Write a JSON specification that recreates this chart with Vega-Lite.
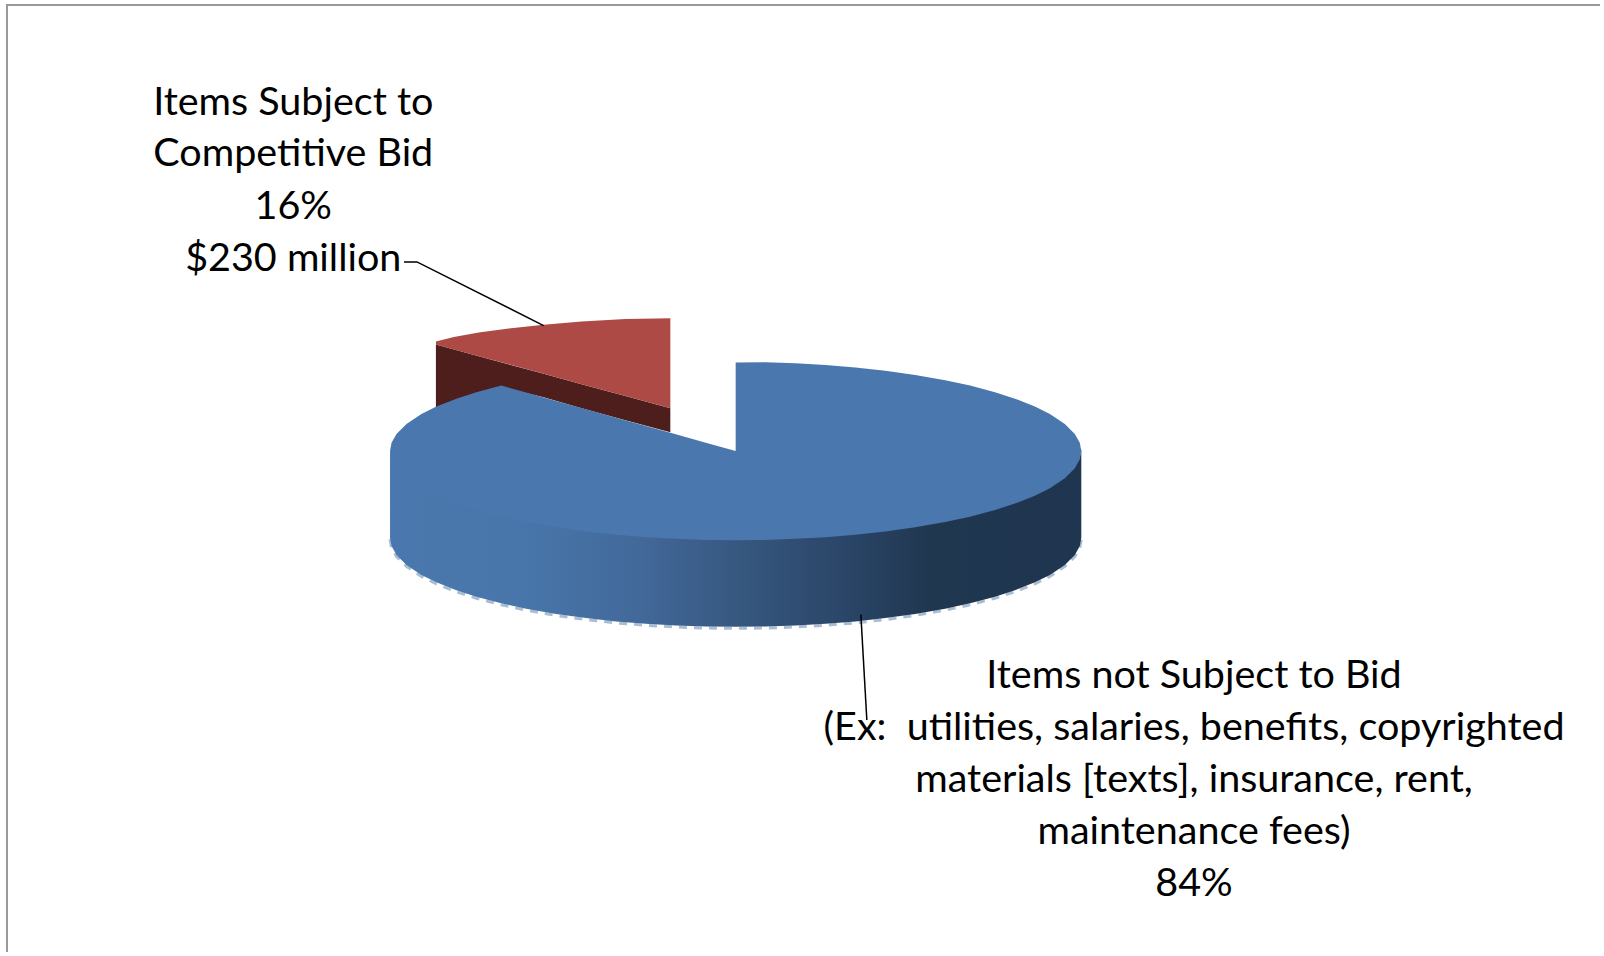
{"$schema":"https://vega.github.io/schema/vega-lite/v6.json","width":1604,"height":956,"autosize":{"type":"fit","contains":"padding"},"padding":0,"background":"white","view":{"stroke":null},
"datasets":{
"top":[{"x":391,"y":453,"y2":453},{"x":392.5,"y":444.7,"y2":461.3},{"x":397.5,"y":435.7,"y2":470.3},{"x":407.5,"y":425.7,"y2":480.3},{"x":422.5,"y":415.7,"y2":490.3},{"x":437.5,"y":408.2,"y2":497.8},{"x":457.5,"y":400.3,"y2":505.7},{"x":477.5,"y":393.8,"y2":512.2},{"x":502.5,"y":387.2,"y2":518.8},{"x":527.5,"y":394.2,"y2":524.2},{"x":557.5,"y":402.6,"y2":529.5},{"x":587.5,"y":411,"y2":533.7},{"x":617.5,"y":419.4,"y2":537},{"x":647.5,"y":427.8,"y2":539.4},{"x":677.5,"y":436.1,"y2":541.1},{"x":707.5,"y":444.5,"y2":542.2},{"x":737.5,"y":453,"y2":542.5},{"x":737.5,"y":364,"y2":542.5},{"x":767.5,"y":363.8,"y2":542.2},{"x":797.5,"y":364.9,"y2":541.1},{"x":827.5,"y":366.6,"y2":539.4},{"x":857.5,"y":369,"y2":537},{"x":887.5,"y":372.3,"y2":533.7},{"x":917.5,"y":376.5,"y2":529.5},{"x":947.5,"y":381.8,"y2":524.2},{"x":972.5,"y":387.2,"y2":518.8},{"x":997.5,"y":393.8,"y2":512.2},{"x":1017.5,"y":400.3,"y2":505.7},{"x":1037.5,"y":408.2,"y2":497.8},{"x":1052.5,"y":415.7,"y2":490.3},{"x":1067.5,"y":425.7,"y2":480.3},{"x":1077.5,"y":435.7,"y2":470.3},{"x":1082.5,"y":444.7,"y2":461.3},{"x":1084,"y":453,"y2":453}],
"side":[{"x":391,"y":451,"y2":540},{"x":392.5,"y":459.3,"y2":548.3},{"x":397.5,"y":468.3,"y2":557.3},{"x":407.5,"y":478.3,"y2":567.3},{"x":422.5,"y":488.3,"y2":577.3},{"x":437.5,"y":495.8,"y2":584.8},{"x":457.5,"y":503.7,"y2":592.7},{"x":477.5,"y":510.2,"y2":599.2},{"x":502.5,"y":516.8,"y2":605.8},{"x":527.5,"y":522.2,"y2":611.2},{"x":557.5,"y":527.5,"y2":616.5},{"x":587.5,"y":531.7,"y2":620.7},{"x":617.5,"y":535,"y2":624},{"x":647.5,"y":537.4,"y2":626.4},{"x":677.5,"y":539.1,"y2":628.1},{"x":707.5,"y":540.2,"y2":629.2},{"x":737.5,"y":540.5,"y2":629.5},{"x":767.5,"y":540.2,"y2":629.2},{"x":797.5,"y":539.1,"y2":628.1},{"x":827.5,"y":537.4,"y2":626.4},{"x":857.5,"y":535,"y2":624},{"x":887.5,"y":531.7,"y2":620.7},{"x":917.5,"y":527.5,"y2":616.5},{"x":947.5,"y":522.2,"y2":611.2},{"x":972.5,"y":516.8,"y2":605.8},{"x":997.5,"y":510.2,"y2":599.2},{"x":1017.5,"y":503.7,"y2":592.7},{"x":1037.5,"y":495.8,"y2":584.8},{"x":1052.5,"y":488.3,"y2":577.3},{"x":1067.5,"y":478.3,"y2":567.3},{"x":1077.5,"y":468.3,"y2":557.3},{"x":1082.5,"y":459.3,"y2":548.3},{"x":1084,"y":451,"y2":540}],
"redTop":[{"x":437,"y":343,"y2":346},{"x":455,"y":338.5,"y2":351},{"x":480,"y":334,"y2":357.7},{"x":510,"y":329.8,"y2":365.9},{"x":545,"y":326,"y2":375.4},{"x":583,"y":322.8,"y2":385.8},{"x":627,"y":320.4,"y2":397.7},{"x":672,"y":319.5,"y2":410}],
"redSide":[{"x":437,"y":346,"y2":410},{"x":480,"y":357.7,"y2":395},{"x":503,"y":364,"y2":389},{"x":545,"y":375.4,"y2":399},{"x":583,"y":385.8,"y2":410},{"x":627,"y":397.7,"y2":422},{"x":672,"y":410,"y2":434}],
"frame":[{"x":7,"y":956,"o":1},{"x":7,"y":5,"o":2},{"x":1604,"y":5,"o":3}],
"leaders":[{"slice":"bid","x":405,"y":263,"o":1},{"slice":"bid","x":418,"y":263,"o":2},{"slice":"bid","x":545,"y":327,"o":3},{"slice":"nobid","x":863,"y":617,"o":1},{"slice":"nobid","x":869,"y":723,"o":2}],
"labels":[{"share":16,"text":"Items Subject to","x":294,"y":103},{"share":16,"text":"Competitive Bid","x":294,"y":155},{"share":16,"text":"16%","x":294,"y":208},{"share":16,"text":"$230 million","x":294,"y":260},{"share":84,"text":"Items not Subject to Bid","x":1197,"y":679},{"share":84,"text":"(Ex:\u00a0 utilities, salaries, benefits, copyrighted","x":1197,"y":731},{"share":84,"text":"materials [texts], insurance, rent,","x":1197,"y":783},{"share":84,"text":"maintenance fees)","x":1197,"y":835},{"share":84,"text":"84%","x":1197,"y":888}]
},
"encoding":{"x":{"field":"x","type":"quantitative","axis":null,"scale":{"domain":[0,1604],"nice":false,"zero":false}},"y":{"field":"y","type":"quantitative","axis":null,"scale":{"domain":[956,0],"nice":false,"zero":false}}},
"layer":[
{"data":{"name":"frame"},"mark":{"type":"line","color":"#999999","strokeWidth":2},"encoding":{"order":{"field":"o"}}},
{"data":{"name":"redSide"},"mark":{"type":"area","color":"#4d1e1c"},"encoding":{"y2":{"field":"y2"}}},
{"data":{"name":"redTop"},"mark":{"type":"area","color":"#ae4a45"},"encoding":{"y2":{"field":"y2"}}},
{"data":{"name":"side"},"mark":{"type":"line","color":"#a9bdd3","strokeWidth":3,"strokeDash":[8,7],"yOffset":1.5},"encoding":{"y":{"field":"y2","type":"quantitative"}}},
{"data":{"name":"side"},"mark":{"type":"area","color":{"gradient":"linear","x1":0,"y1":0,"x2":1,"y2":0,"stops":[{"offset":0,"color":"#4a78ae"},{"offset":0.19,"color":"#4876aa"},{"offset":0.36,"color":"#42699a"},{"offset":0.5,"color":"#375880"},{"offset":0.66,"color":"#2a4567"},{"offset":0.78,"color":"#203750"},{"offset":1,"color":"#1f3550"}]}},"encoding":{"y2":{"field":"y2"}}},
{"data":{"name":"top"},"mark":{"type":"area","color":"#4a77ae"},"encoding":{"y2":{"field":"y2"}}},
{"data":{"name":"leaders"},"mark":{"type":"line","color":"black","strokeWidth":1.5},"encoding":{"detail":{"field":"slice"},"order":{"field":"o"}}},
{"data":{"name":"labels"},"mark":{"type":"text","font":"Lato","fontSize":39.5,"align":"center","baseline":"middle","color":"black"},"encoding":{"text":{"field":"text"}}}
]}
